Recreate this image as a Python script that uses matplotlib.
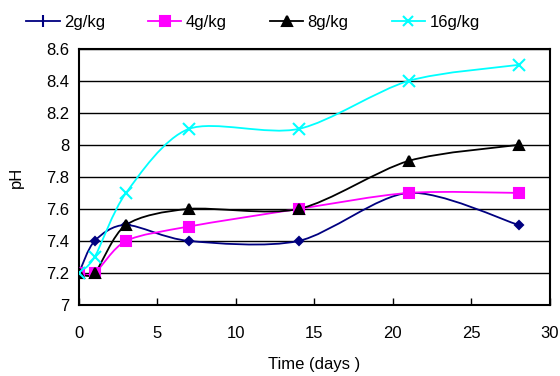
import numpy as np
import matplotlib
matplotlib.use("Agg")
import matplotlib.pyplot as plt
from matplotlib.path import Path
from matplotlib.patches import PathPatch
from matplotlib.lines import Line2D

plt.rcParams['font.family'] = ['Liberation Sans Narrow', 'Liberation Sans', 'DejaVu Sans']

days = [0, 1, 3, 7, 14, 21, 28]
ph_2 = [7.2, 7.4, 7.5, 7.4, 7.4, 7.7, 7.5]
ph_4 = [7.2, 7.2, 7.4, 7.49, 7.6, 7.7, 7.7]
ph_8 = [7.2, 7.2, 7.5, 7.6, 7.6, 7.9, 8.0]
ph_16 = [7.2, 7.3, 7.7, 8.1, 8.1, 8.4, 8.5]
labels = ['2g/kg', '4g/kg', '8g/kg', '16g/kg']


def smooth_path(x, y):
    # Excel-like smoothed line: cubic bezier through the points
    p = np.column_stack([x, y]).astype(float)
    n = len(p)
    verts = [p[0]]
    codes = [Path.MOVETO]
    for i in range(n - 1):
        p0 = p[i - 1] if i > 0 else p[i]
        p3 = p[i + 2] if i + 2 < n else p[i + 1]
        c1 = p[i] + (p[i + 1] - p0) / 7
        c2 = p[i + 1] - (p3 - p[i]) / 7
        verts += [c1, c2, p[i + 1]]
        codes += [Path.CURVE4] * 3
    return Path(verts, codes)


fig = plt.figure(figsize=(5.6, 3.76), dpi=100)
ax = fig.add_axes([0.141, 0.189, 0.841, 0.681])

series = [
    (ph_2, '#000080', 'D', 4, '|', 8),
    (ph_4, '#FF00FF', 's', 7, 's', 7),
    (ph_8, '#000000', '^', 7, '^', 7),
    (ph_16, '#00FFFF', 'x', 8, 'x', 7),
]
handles = []
for (vals, col, mk, ms, lmk, lms), lab in zip(series, labels):
    ax.add_patch(PathPatch(smooth_path(days, vals), facecolor='none',
                           edgecolor=col, lw=1.3, zorder=3))
    ax.plot(days, vals, linestyle='none', marker=mk, markersize=ms,
            color=col, markeredgewidth=1.5, zorder=4)
    handles.append(Line2D([], [], color=col, lw=1.3, marker=lmk,
                          markersize=lms, markeredgewidth=1.5, label=lab))

ax.set_xlim(0, 30)
ax.set_ylim(7, 8.6)
ax.set_xticks(np.arange(0, 31, 5))
ax.set_yticks(np.arange(7, 8.61, 0.2))
ax.set_yticklabels(['7', '7.2', '7.4', '7.6', '7.8', '8', '8.2', '8.4', '8.6'])
ax.yaxis.grid(True, color='black', lw=1)
ax.tick_params(axis='x', direction='in', length=5, width=1, pad=15, labelsize=12)
ax.tick_params(axis='y', length=0, pad=7, labelsize=12)
for s in ax.spines.values():
    s.set_linewidth(1.5)

ax.set_xlabel('Time (days )', fontsize=12, labelpad=12)
ax.set_ylabel('pH', fontsize=12, labelpad=16)

fig.legend(handles=handles, loc='upper left', bbox_to_anchor=(0.02, 1.0),
           ncol=4, frameon=False, fontsize=12, columnspacing=2.6,
           handlelength=2.0, handletextpad=0.25)

fig.savefig('out.png', dpi=100)
